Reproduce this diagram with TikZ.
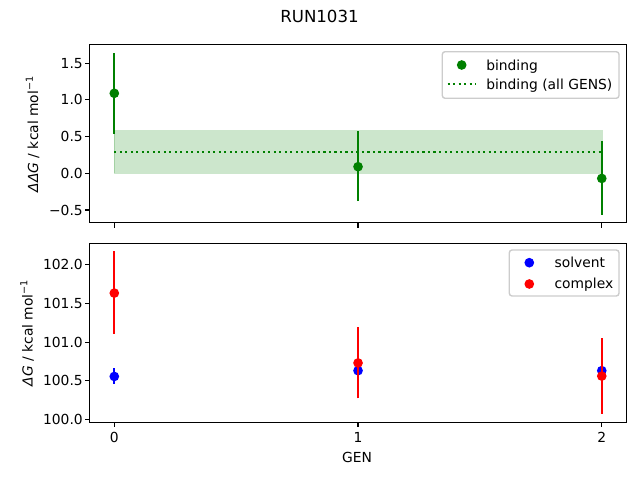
\documentclass[tikz,border=0pt]{standalone}
\usepackage{fontspec}
\setmainfont{DejaVu Sans}
\definecolor{mplgreen}{HTML}{008000}
\definecolor{mplblue}{HTML}{0000FF}
\definecolor{mplred}{HTML}{FF0000}
\begin{document}
\begin{tikzpicture}[x=0.01in,y=-0.01in,
    axesline/.style={line width=0.8pt},
    ticklab/.style={inner sep=0pt,font=\fontsize{10}{12}\selectfont},
    errbar/.style={line width=1.5pt},
    datadot/.style={circle,inner sep=0pt,minimum size=7pt},
    legframe/.style={draw=black!20,line width=1pt,fill=white,fill opacity=0.8,rounded corners=2pt}]
	\useasboundingbox (0,0) rectangle (640,480); % figure
	\node[ticklab,font=\fontsize{12}{14}\selectfont,anchor=base] (title) at (319.5,22.3) {RUN1031};
	% upper axes, binding free energy
	\begin{scope}[shift={(114.3,173.3)},x=2.436in,y=0.7335in]
		\filldraw[mplgreen,fill opacity=0.2,draw opacity=0.2] (0,0) rectangle (2,0.58); % band
		\draw[mplgreen,line width=1.5pt,dash pattern=on 1.5pt off 2.475pt] (0,0.29) -- (2,0.29); % all GENS
		\draw[errbar,mplgreen] (0,0.54) -- (0,1.64); % GEN 0
		\draw[errbar,mplgreen] (1,-0.38) -- (1,0.58); % GEN 1
		\draw[errbar,mplgreen] (2,-0.565) -- (2,0.445); % GEN 2
		\node[datadot,fill=mplgreen] (bind0) at (0,1.09) {};
		\node[datadot,fill=mplgreen] (bind1) at (1,0.09) {};
		\node[datadot,fill=mplgreen] (bind2) at (2,-0.07) {};
		\draw[axesline] (-0.1,-0.673) rectangle (2.1,1.749); % frame
		\draw[axesline] (0,-0.673) -- ++(0pt,-3.5pt);
		\draw[axesline] (1,-0.673) -- ++(0pt,-3.5pt);
		\draw[axesline] (2,-0.673) -- ++(0pt,-3.5pt);
		\draw[axesline] (-0.1,1.5) -- ++(-3.5pt,0pt);
		\draw[axesline] (-0.1,1.0) -- ++(-3.5pt,0pt);
		\draw[axesline] (-0.1,0.5) -- ++(-3.5pt,0pt);
		\draw[axesline] (-0.1,0.0) -- ++(-3.5pt,0pt);
		\draw[axesline] (-0.1,-0.5) -- ++(-3.5pt,0pt);
		\node[ticklab,anchor=east,xshift=-5pt] (ytopa) at (-0.1,1.5) {1.5};
		\node[ticklab,anchor=east,xshift=-5pt] (ytopb) at (-0.1,1.0) {1.0};
		\node[ticklab,anchor=east,xshift=-5pt] (ytopc) at (-0.1,0.5) {0.5};
		\node[ticklab,anchor=east,xshift=-5pt] (ytopd) at (-0.1,0.0) {0.0};
		\node[ticklab,anchor=east,xshift=-5pt] (ytope) at (-0.1,-0.5) {−0.5};
	\end{scope}
	\node[ticklab,rotate=90,anchor=base] (ddglabel) at (38,134) {\textit{ΔΔG} / kcal mol\textsuperscript{−1}};
	% legend, upper axes
	\draw[legframe] (442.3,51.7) rectangle (619,98.3);
	\node[datadot,fill=mplgreen] (legbind) at (461.7,65) {};
	\draw[mplgreen,line width=1.5pt,dash pattern=on 1.5pt off 2.475pt] (447.7,84.3) -- (475.7,84.3);
	\node[ticklab,anchor=base west] (legbindtxt) at (486,70.3) {binding};
	\node[ticklab,anchor=base west] (legalltxt) at (486,89.3) {binding (all GENS)};
	% lower axes, solvent and complex
	\begin{scope}[shift={(114.3,419.3)},x=2.436in,y=0.7715in,shift={(0,-100)}]
		\draw[errbar,mplblue] (0,100.46) -- (0,100.66); % solvent GEN 0
		\node[datadot,fill=mplblue] (solv0) at (0,100.555) {};
		\node[datadot,fill=mplblue] (solv1) at (1,100.63) {};
		\node[datadot,fill=mplblue] (solv2) at (2,100.63) {};
		\draw[errbar,mplred] (0,101.11) -- (0,102.18); % complex GEN 0
		\draw[errbar,mplred] (1,100.27) -- (1,101.19); % complex GEN 1
		\draw[errbar,mplred] (2,100.07) -- (2,101.05); % complex GEN 2
		\node[datadot,fill=mplred] (comp0) at (0,101.635) {};
		\node[datadot,fill=mplred] (comp1) at (1,100.73) {};
		\node[datadot,fill=mplred] (comp2) at (2,100.56) {};
		\draw[axesline] (-0.1,99.961) rectangle (2.1,102.281); % frame
		\draw[axesline] (0,99.961) -- ++(0pt,-3.5pt);
		\draw[axesline] (1,99.961) -- ++(0pt,-3.5pt);
		\draw[axesline] (2,99.961) -- ++(0pt,-3.5pt);
		\node[ticklab,anchor=north,yshift=-7pt] (xlaba) at (0,99.961) {0};
		\node[ticklab,anchor=north,yshift=-7pt] (xlabb) at (1,99.961) {1};
		\node[ticklab,anchor=north,yshift=-7pt] (xlabc) at (2,99.961) {2};
		\draw[axesline] (-0.1,102.0) -- ++(-3.5pt,0pt);
		\draw[axesline] (-0.1,101.5) -- ++(-3.5pt,0pt);
		\draw[axesline] (-0.1,101.0) -- ++(-3.5pt,0pt);
		\draw[axesline] (-0.1,100.5) -- ++(-3.5pt,0pt);
		\draw[axesline] (-0.1,100.0) -- ++(-3.5pt,0pt);
		\node[ticklab,anchor=east,xshift=-5pt] (ybota) at (-0.1,102.0) {102.0};
		\node[ticklab,anchor=east,xshift=-5pt] (ybotb) at (-0.1,101.5) {101.5};
		\node[ticklab,anchor=east,xshift=-5pt] (ybotc) at (-0.1,101.0) {101.0};
		\node[ticklab,anchor=east,xshift=-5pt] (ybotd) at (-0.1,100.5) {100.5};
		\node[ticklab,anchor=east,xshift=-5pt] (ybote) at (-0.1,100.0) {100.0};
	\end{scope}
	\node[ticklab,rotate=90,anchor=base] (dglabel) at (32.5,332.8) {\textit{ΔG} / kcal mol\textsuperscript{−1}};
	\node[ticklab,anchor=base] (genlabel) at (357,462.3) {GEN};
	% legend, lower axes
	\draw[legframe] (509.3,250) rectangle (619,296);
	\node[datadot,fill=mplblue] (legsolv) at (529.3,262.7) {};
	\node[datadot,fill=mplred] (legcomp) at (529.3,284) {};
	\node[ticklab,anchor=base west] (legsolvtxt) at (554.3,267.7) {solvent};
	\node[ticklab,anchor=base west] (legcomptxt) at (554.3,288.5) {complex};
\end{tikzpicture}
\end{document}
